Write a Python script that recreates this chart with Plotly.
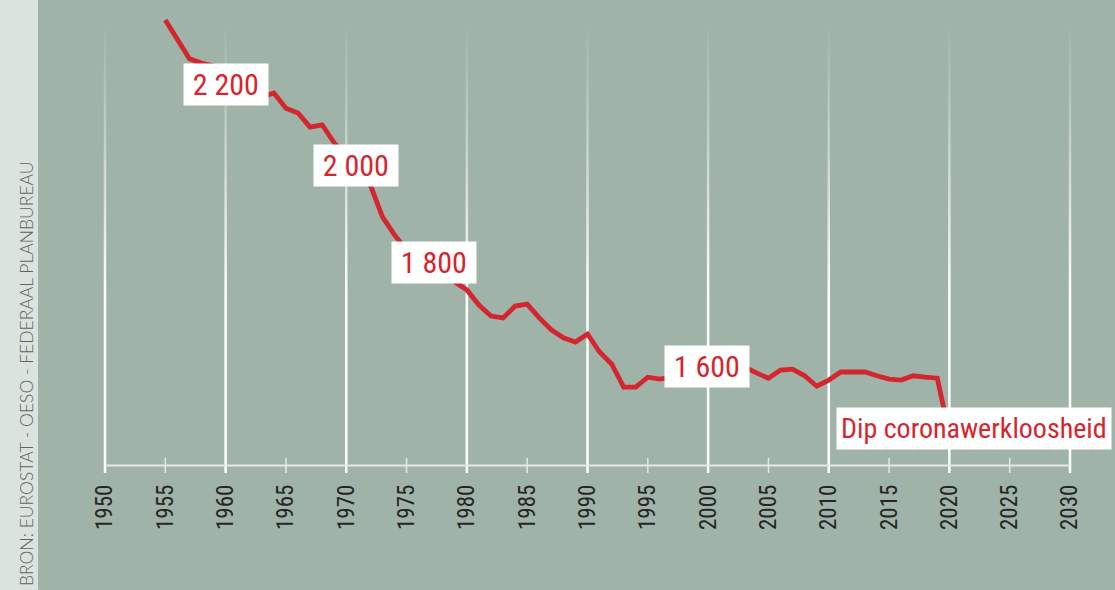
import plotly.graph_objects as go

# ---------------- data ----------------
years = list(range(1955, 2021))
hours = [2338, 2296, 2256, 2247, 2241, 2222, 2207, 2190, 2176, 2184,
         2152, 2142, 2112, 2117, 2079, 2053, 2022, 1990, 1923, 1885,
         1853, 1836, 1819, 1803, 1786, 1769, 1737, 1714, 1710, 1735,
         1739, 1710, 1685, 1668, 1659, 1676, 1638, 1613, 1564, 1564,
         1585, 1581, 1585, 1592, 1598, 1602, 1607, 1609, 1607, 1594,
         1583, 1600, 1602, 1588, 1566, 1579, 1596, 1596, 1596, 1588,
         1581, 1579, 1588, 1585, 1583, 1465]

tick_years = list(range(1950, 2031, 5))
tick_labels = [str(y) for y in tick_years]
grid_years = list(range(1950, 2031, 10))

label_texts = ["2 200", "2 000", "1 800", "1 600", "Dip coronawerkloosheid"]
label_x = [1960.0, 1970.8, 1977.3, 1999.9, 2022.05]
label_y = [2201, 2032, 1827, 1608, 1476]

source_text = "BRON: EUROSTAT - OESO - FEDERAAL PLANBUREAU"

# ---------------- style ----------------
W, H = 1115, 590
ML, MR, MT, MB = 105, 45, 0, 125
PW, PH = W - ML - MR, H - MT - MB
X0, X1 = 1950, 2030
Y0, Y1 = 1400, 2380

BG = "#a0b3a8"
STRIP = "#dbe3df"
RED = "#d4262e"
WHITE = "#ffffff"
COND = "Roboto Condensed, Liberation Sans Narrow, sans-serif"


def px_x(p):
    return (p - ML) / PW


def px_y(p):
    return (MT + PH - p) / PH


def yr_x(yr):
    return (yr - X0) / (X1 - X0)


fig = go.Figure()
fig.add_trace(go.Scatter(x=years, y=hours, mode="lines",
                         line=dict(color=RED, width=4.8),
                         hoverinfo="skip", showlegend=False))

shapes = []
# left source strip
shapes.append(dict(type="rect", xref="paper", yref="paper",
                   x0=px_x(-5), x1=px_x(38), y0=px_y(H + 5), y1=px_y(-5),
                   fillcolor=STRIP, line=dict(width=0), layer="below"))

# gradient gridlines
top, solid, bottom = 30, 300, 473
nseg = 27
for yr in grid_years:
    xp = yr_x(yr)
    step = (solid - top) / nseg
    for i in range(nseg):
        a = 0.05 + 0.95 * ((i + 1) / nseg) ** 1.2
        shapes.append(dict(type="line", xref="paper", yref="paper",
                           x0=xp, x1=xp, y0=px_y(top + i * step), y1=px_y(top + (i + 1) * step),
                           line=dict(color="rgba(255,255,255,%.3f)" % a, width=2.5), layer="below"))
    shapes.append(dict(type="line", xref="paper", yref="paper",
                       x0=xp, x1=xp, y0=px_y(solid), y1=px_y(bottom),
                       line=dict(color=WHITE, width=2.5), layer="below"))

# axis line
shapes.append(dict(type="line", xref="paper", yref="paper",
                   x0=0, x1=1, y0=px_y(465.5), y1=px_y(465.5),
                   line=dict(color="#e3e9e5", width=2), layer="below"))
# minor ticks
for yr in tick_years:
    if yr % 10 != 0:
        xp = yr_x(yr)
        shapes.append(dict(type="line", xref="paper", yref="paper",
                           x0=xp, x1=xp, y0=px_y(458), y1=px_y(473),
                           line=dict(color="#e3e9e5", width=1.5), layer="below"))

annotations = []
for t, x, y in zip(label_texts, label_x, label_y):
    is_num = t[0].isdigit()
    annotations.append(dict(x=x, y=y, xref="x", yref="y",
                            text=("\u2009" + t + "\u2009") if is_num else t,
                            showarrow=False,
                            font=dict(family=COND, size=30 if is_num else 28, color=RED),
                            bgcolor=WHITE, borderpad=3 if is_num else 4,
                            xanchor="center", yanchor="middle"))

annotations.append(dict(x=px_x(26.5), y=px_y(588), xref="paper", yref="paper",
                        text=source_text, showarrow=False, textangle=-90,
                        font=dict(family="Lato, sans-serif", size=17.5, color="#5f6461", weight=300),
                        xanchor="center", yanchor="bottom"))

fig.update_layout(
    width=W, height=H,
    margin=dict(l=ML, r=MR, t=MT, b=MB, pad=0),
    paper_bgcolor=BG, plot_bgcolor=BG,
    shapes=shapes, annotations=annotations,
    xaxis=dict(range=[X0, X1], tickmode="array", tickvals=tick_years, ticktext=tick_labels,
               tickangle=-90, tickfont=dict(family=COND, size=23, color="#262626"),
               showgrid=False, zeroline=False, showline=False, ticks="",
               ticklabelstandoff=14, fixedrange=True),
    yaxis=dict(range=[Y0, Y1], visible=False, showgrid=False, zeroline=False, fixedrange=True),
)

fig.write_html("out.html", config={"displayModeBar": False},
               post_script="document.body.style.margin='0';")
